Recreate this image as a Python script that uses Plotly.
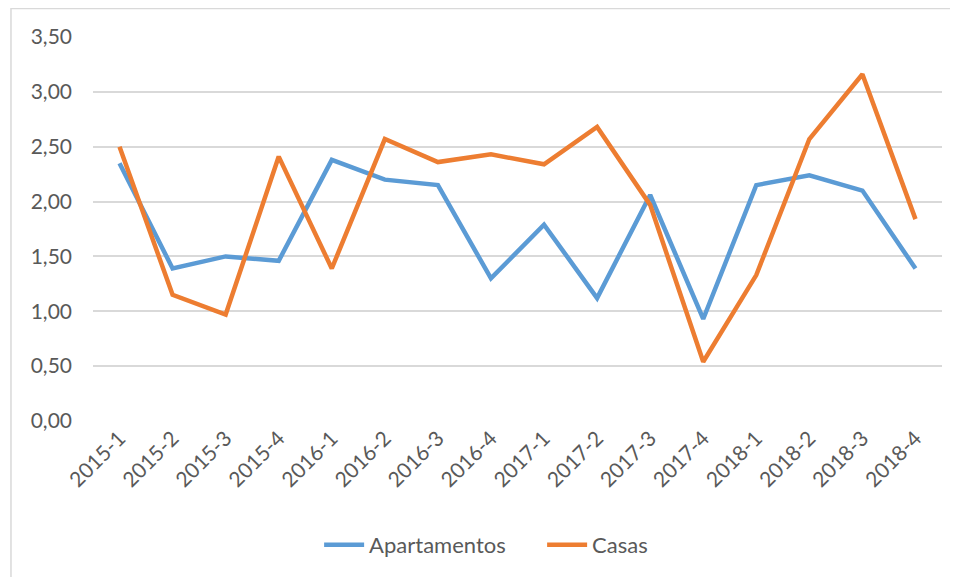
"""
Quarterly index: Apartamentos vs Casas, 2015-2018
"""

import plotly.graph_objects as go

# Data
quarters = ["2015-1", "2015-2", "2015-3", "2015-4",
            "2016-1", "2016-2", "2016-3", "2016-4",
            "2017-1", "2017-2", "2017-3", "2017-4",
            "2018-1", "2018-2", "2018-3", "2018-4"]
apartamentos = [2.35, 1.39, 1.50, 1.46, 2.38, 2.20, 2.15, 1.30,
                1.79, 1.12, 2.06, 0.93, 2.15, 2.24, 2.10, 1.39]
casas = [2.50, 1.15, 0.97, 2.41, 1.39, 2.57, 2.36, 2.43,
         2.34, 2.68, 1.97, 0.54, 1.33, 2.57, 3.16, 1.84]
y_ticks = [0, 0.5, 1.0, 1.5, 2.0, 2.5, 3.0, 3.5]

BLUE = "#5B9BD5"
ORANGE = "#ED7D31"
GRID = "#D9D9D9"
TEXT = "#595959"
FONT = "Lato, 'Open Sans', sans-serif"

fig = go.Figure()

fig.add_trace(go.Scatter(
    x=quarters, y=apartamentos, name="Apartamentos",
    mode="lines", line=dict(color=BLUE, width=4.5)
))
fig.add_trace(go.Scatter(
    x=quarters, y=casas, name="Casas",
    mode="lines", line=dict(color=ORANGE, width=4.5)
))

# page body keeps an 8px margin, so the figure is 8px smaller each way
fig.update_layout(
    width=950, height=569,
    margin=dict(l=85, r=16, t=29, b=156, autoexpand=False),
    paper_bgcolor="white", plot_bgcolor="white",
    font=dict(family=FONT, size=21, color=TEXT),
    showlegend=True,
    legend=dict(
        orientation="h", x=0.529, y=-0.323,
        xanchor="center", yanchor="middle",
        font=dict(family=FONT, size=22, color=TEXT),
        itemwidth=40, entrywidth=168,
    ),
    # light chart-area frame (left/top visible, rest cropped off)
    shapes=[dict(
        type="rect", xref="paper", yref="paper",
        x0=-0.0966, x1=1.03, y0=-0.45, y1=1.074,
        line=dict(color=GRID, width=1.5), layer="below",
    )],
)

fig.update_xaxes(
    type="category", tickangle=-45, range=[-0.5, len(quarters) - 0.5],
    showgrid=False, showline=False, zeroline=False,
    ticks="", ticklen=0, automargin=False,
)
fig.update_yaxes(
    range=[0, 3.5], tickvals=y_ticks,
    ticktext=[f"{v:.2f}".replace(".", ",") for v in y_ticks],
    showgrid=True, gridcolor=GRID, gridwidth=1.5,
    zeroline=False, showline=False, ticks="",
    ticklabelstandoff=20, automargin=False,
)

fig.write_html("out.html")
